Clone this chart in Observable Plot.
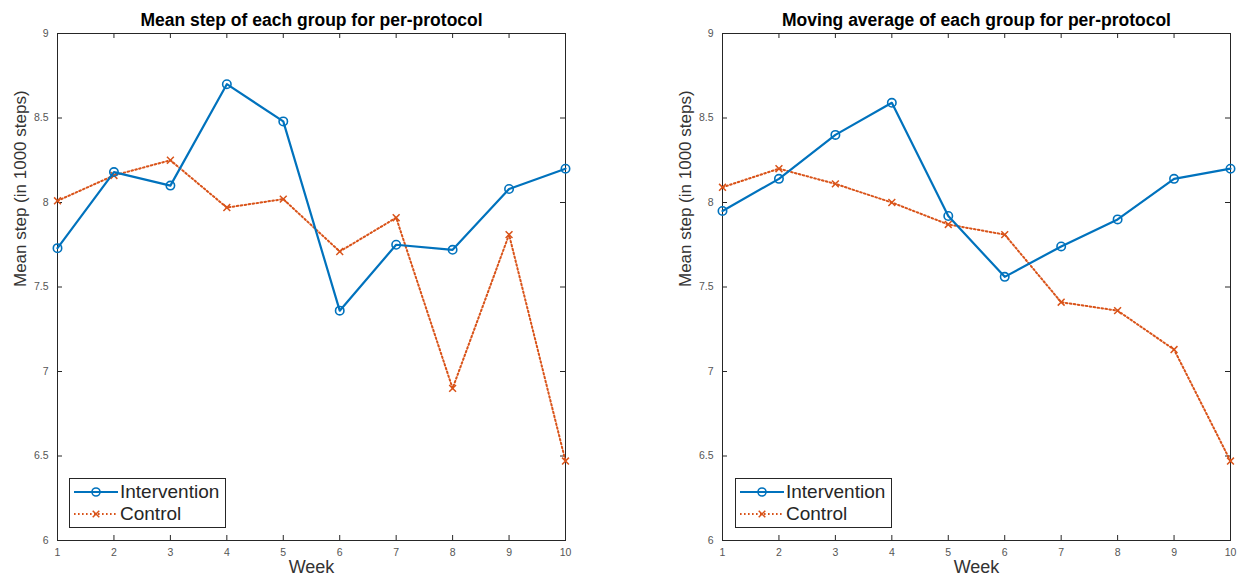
<!DOCTYPE html>
<html><head><meta charset="utf-8">
<script src="https://cdn.jsdelivr.net/npm/d3@7"></script>
<script src="https://cdn.jsdelivr.net/npm/@observablehq/plot@0.6"></script>
<style>
html,body{margin:0;padding:0;background:#fff;}
#wrap{position:relative;width:1240px;height:580px;font-family:"Liberation Sans",Arial,sans-serif;}
.panel{position:absolute;top:0;width:620px;height:580px;}
.legend{position:absolute;background:#fff;border:1px solid #262626;font-size:19px;color:#262626;padding:2px 6px 2px 3px;line-height:22px;}
.legend div{display:flex;align-items:center;white-space:nowrap;}
.legend svg{margin-right:1px;}
</style>
</head><body>
<div id="wrap"></div>
<script>
const weeks = [1,2,3,4,5,6,7,8,9,10];
const meanIntervention = [7.73,8.18,8.10,8.70,8.48,7.36,7.75,7.72,8.08,8.20];
const meanControl      = [8.01,8.16,8.25,7.97,8.02,7.71,7.91,6.90,7.81,6.47];
const maIntervention   = [7.95,8.14,8.40,8.59,7.92,7.56,7.74,7.90,8.14,8.20];
const maControl        = [8.09,8.20,8.11,8.00,7.87,7.81,7.41,7.36,7.13,6.47];
const yTicks = [6,6.5,7,7.5,8,8.5,9];
const seriesNames = ["Intervention","Control"];
const titles = ["Mean step of each group for per-protocol","Moving average of each group for per-protocol"];
const xLabel = "Week";
const yLabel = "Mean step (in 1000 steps)";

const BLUE = "#0072BD", ORANGE = "#D95319", AX = "#262626";
const FONT = "Liberation Sans, Arial, sans-serif";
const DASH = "1.6,2.4";

function makePanel(title, inter, ctrl, mLeft, mRight) {
  const H = 580, mTop = 33, mBottom = 40;
  const plotH = H - mTop - mBottom;
  const plotW = 620 - mLeft - mRight;
  const dI = weeks.map((w,i)=>({w, v: inter[i]}));
  const dC = weeks.map((w,i)=>({w, v: ctrl[i]}));
  const tl = 5;
  return Plot.plot({
    width: 620, height: H,
    marginLeft: mLeft, marginRight: mRight, marginTop: mTop, marginBottom: mBottom,
    style: {fontFamily: FONT, background: "white", color: AX, overflow: "visible"},
    x: {domain: [1,10]},
    y: {domain: [6,9]},
    marks: [
      Plot.frame({stroke: AX, strokeWidth: 1}),
      Plot.tickX(weeks, {x: d=>d, insetTop: plotH - tl, stroke: AX}),
      Plot.tickX(weeks, {x: d=>d, insetBottom: plotH - tl, stroke: AX}),
      Plot.tickY(yTicks, {y: d=>d, insetRight: plotW - tl, stroke: AX}),
      Plot.tickY(yTicks, {y: d=>d, insetLeft: plotW - tl, stroke: AX}),
      Plot.axisX(weeks, {tickSize: 0, tickPadding: 8, fontSize: 10.5, fill: "#555", label: null}),
      Plot.axisY(yTicks, {tickSize: 0, tickPadding: 9, fontSize: 10.5, fill: "#555",
        tickFormat: d=>String(d), label: null}),
      Plot.text([xLabel], {frameAnchor: "bottom", dy: 32, fontSize: 18, fill: "#333"}),
      Plot.text([yLabel], {frameAnchor: "left", dx: -37, rotate: -90, fontSize: 17, fill: "#333"}),
      Plot.line(dC, {x: "w", y: "v", stroke: ORANGE, strokeWidth: 2, strokeDasharray: DASH}),
      Plot.dot(dC, {x: "w", y: "v", symbol: "times", r: 3.2, stroke: ORANGE, strokeWidth: 1.5}),
      Plot.line(dI, {x: "w", y: "v", stroke: BLUE, strokeWidth: 2.2}),
      Plot.dot(dI, {x: "w", y: "v", symbol: "circle", r: 4.2, stroke: BLUE, strokeWidth: 1.6, fill: "none"}),
      Plot.text([title], {frameAnchor: "top", lineAnchor: "bottom", dy: -8, fontSize: 17.5, fontWeight: "bold", fill: "#000"})
    ]
  });
}

function legendSwatch(color, dashed, symbol) {
  const s = d3.create("svg").attr("width", 46).attr("height", 14);
  s.append("line").attr("x1",1).attr("x2",45).attr("y1",7).attr("y2",7)
    .attr("stroke", color).attr("stroke-width", 2)
    .attr("stroke-dasharray", dashed ? DASH : null);
  if (symbol === "circle") {
    s.append("circle").attr("cx",23).attr("cy",7).attr("r",4).attr("fill","none")
      .attr("stroke",color).attr("stroke-width",1.6);
  } else {
    s.append("path").attr("d", d3.symbol(d3.symbolTimes, 30)()).attr("transform","translate(23,7)")
      .attr("stroke",color).attr("stroke-width",1.5).attr("fill","none");
  }
  return s.node();
}

function makeLegend(left, top) {
  const lg = document.createElement("div");
  lg.className = "legend";
  lg.style.left = left + "px"; lg.style.top = top + "px";
  const specs = [[BLUE,false,"circle"],[ORANGE,true,"times"]];
  seriesNames.forEach((n,i)=>{
    const row = document.createElement("div");
    row.appendChild(legendSwatch(...specs[i]));
    const t = document.createElement("span"); t.textContent = n;
    row.appendChild(t);
    lg.appendChild(row);
  });
  return lg;
}

const wrap = document.getElementById("wrap");
const p1 = document.createElement("div"); p1.className = "panel"; p1.style.left = "0px";
p1.appendChild(makePanel(titles[0], meanIntervention, meanControl, 57, 55));
const p2 = document.createElement("div"); p2.className = "panel"; p2.style.left = "620px";
p2.appendChild(makePanel(titles[1], maIntervention, maControl, 102, 10));
wrap.appendChild(p1); wrap.appendChild(p2);
wrap.appendChild(makeLegend(69, 478));
wrap.appendChild(makeLegend(735, 478));
</script>
</body></html>
